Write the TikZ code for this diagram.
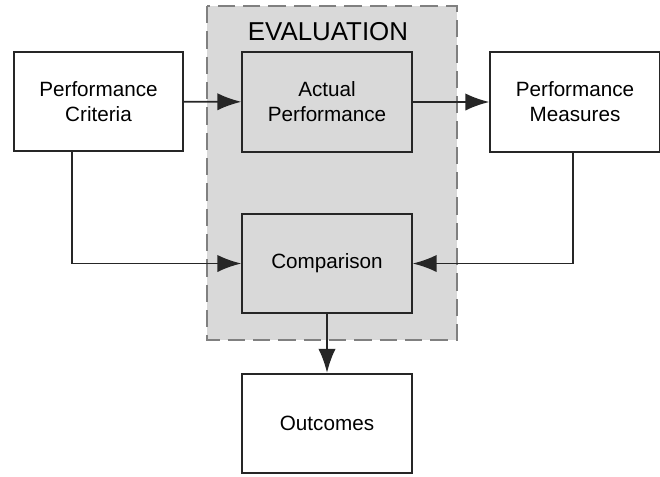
\documentclass[tikz,border=0pt]{standalone}
\usepackage{fontspec}
\setmainfont{Liberation Sans}
\usetikzlibrary{arrows.meta}
\definecolor{evalgray}{RGB}{217,217,217}
\definecolor{dashgray}{RGB}{128,128,128}
\begin{document}
\begin{tikzpicture}[x=0.75pt,y=-0.75pt,>={Latex[length=18pt,width=13pt]},
  box/.style={draw=black!85,line width=1.5pt,fill=white,minimum width=127pt,
    minimum height=74.5pt,align=center,inner sep=0pt,
    font=\fontsize{15.5}{18.75}\selectfont},
  evalbox/.style={box,fill=evalgray},
  flow/.style={->,draw=black!85,line width=1.4pt}]
  \useasboundingbox (0,0) rectangle (660,476);
  % evaluation area
  \draw[dashgray,fill=evalgray,line width=2pt,dash pattern=on 13pt off 6pt]
    (207,6) rectangle (457,340);
  \node[font=\fontsize{19.4}{22}\selectfont] (evaltitle) at (328,32) {EVALUATION};
  % boxes
  \node[box] (crit) at (98.5,101.5) {Performance\\Criteria};
  \node[evalbox] (actual) at (327,102) {Actual\\Performance};
  \node[box] (meas) at (575,102) {Performance\\Measures};
  \node[evalbox] (comp) at (327,263.5) {Comparison};
  \node[box] (outc) at (327,423.5) {Outcomes};
  % connectors
  \draw[flow] (crit) -- (actual);
  \draw[flow] (actual) -- (meas);
  \draw[flow] ([xshift=-19.9pt]crit.south) |- (comp.west);
  \draw[flow] ([xshift=-1.5pt]meas.south) |- (comp.east);
  \draw[flow] (comp) -- (outc);
\end{tikzpicture}
\end{document}
